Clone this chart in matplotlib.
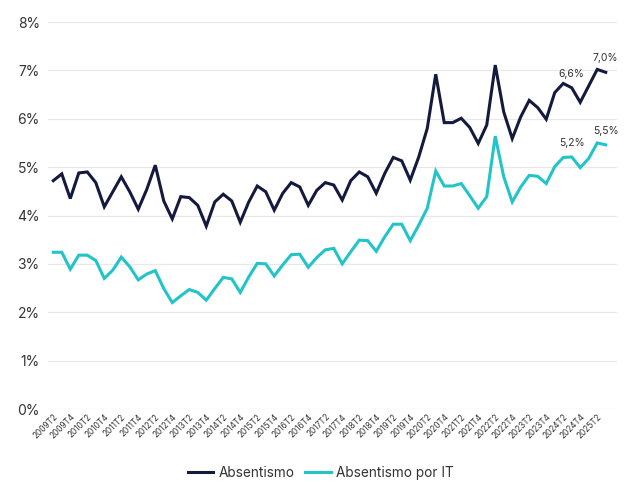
import numpy as np
import matplotlib
matplotlib.use("Agg")
import matplotlib.pyplot as plt
from matplotlib.transforms import ScaledTranslation

# quarters 2009T1 .. 2025T2
years = list(range(2009, 2026))
quarters = [f"{y}T{q}" for y in years for q in range(1, 5)][:66]

absentismo = [4.72, 4.86, 4.35, 4.88, 4.90, 4.68, 4.18, 4.49, 4.80, 4.49,
              4.13, 4.54, 5.04, 4.30, 3.93, 4.39, 4.37, 4.21, 3.78, 4.28,
              4.44, 4.30, 3.86, 4.28, 4.61, 4.49, 4.11, 4.46, 4.68, 4.59,
              4.21, 4.52, 4.68, 4.63, 4.32, 4.72, 4.90, 4.80, 4.46, 4.87,
              5.20, 5.13, 4.73, 5.21, 5.80, 6.92, 5.92, 5.92, 6.01, 5.82,
              5.49, 5.87, 7.11, 6.14, 5.59, 6.04, 6.38, 6.23, 5.99, 6.54,
              6.73, 6.64, 6.34, 6.68, 7.02, 6.96]

absentismo_it = [3.24, 3.24, 2.89, 3.18, 3.18, 3.07, 2.70, 2.87, 3.14, 2.94,
                 2.67, 2.79, 2.86, 2.49, 2.20, 2.34, 2.47, 2.41, 2.25, 2.49,
                 2.72, 2.69, 2.41, 2.73, 3.01, 3.00, 2.75, 2.98, 3.19, 3.20,
                 2.93, 3.13, 3.29, 3.32, 3.00, 3.25, 3.49, 3.48, 3.26, 3.56,
                 3.82, 3.82, 3.48, 3.80, 4.15, 4.92, 4.61, 4.61, 4.66, 4.41,
                 4.15, 4.39, 5.64, 4.80, 4.28, 4.59, 4.83, 4.81, 4.66, 5.01,
                 5.20, 5.21, 4.99, 5.18, 5.50, 5.46]

labelled = [61, 65]  # 2024T2 and 2025T2

navy = "#141a3d"
teal = "#22c4c8"
txt = "#333333"

plt.rcParams['font.family'] = ['Inter', 'DejaVu Sans']

fig = plt.figure(figsize=(6.41, 4.90), dpi=100)
ax = fig.add_axes([0.0749, 0.1653, 0.8877, 0.7898])

x = np.arange(len(quarters))
ax.plot(x, absentismo, color=navy, lw=2.2, label="Absentismo", solid_joinstyle='miter')
ax.plot(x, absentismo_it, color=teal, lw=2.2, label="Absentismo por IT", solid_joinstyle='miter')

for i in labelled:
    for serie in (absentismo, absentismo_it):
        ax.annotate(f"{serie[i]:.1f}%".replace('.', ','), (x[i], serie[i]),
                    xytext=(0, 10), textcoords='offset points',
                    ha='center', va='center', fontsize=7.5, color=txt)

ax.set_xlim(-0.62, 66.33)
ax.set_ylim(0, 8)
ax.set_yticks(range(0, 9))
ax.set_yticklabels([f"{v}%" for v in range(0, 9)])
ax.grid(axis='y', color='#e8e8e8', lw=0.9)
ax.set_axisbelow(True)
for s in ax.spines.values():
    s.set_visible(False)
ax.tick_params(axis='y', length=0, pad=6, labelsize=10, labelcolor=txt)
ax.tick_params(axis='x', length=0, pad=4, labelsize=5.9, labelcolor=txt)

ax.set_xticks(x[1::2])
ax.set_xticklabels(quarters[1::2], rotation=45, ha='right', va='center',
                   rotation_mode='anchor')
for lab in ax.get_xticklabels():
    lab.set_transform(lab.get_transform() + ScaledTranslation(-0.055, -0.01, fig.dpi_scale_trans))

fig.legend(loc='center', bbox_to_anchor=(0.5, 0.035), ncol=2, frameon=False,
           fontsize=9.8, handlelength=1.9, handletextpad=0.35,
           columnspacing=0.8, labelcolor=txt)

fig.savefig("out.png", dpi=100)
